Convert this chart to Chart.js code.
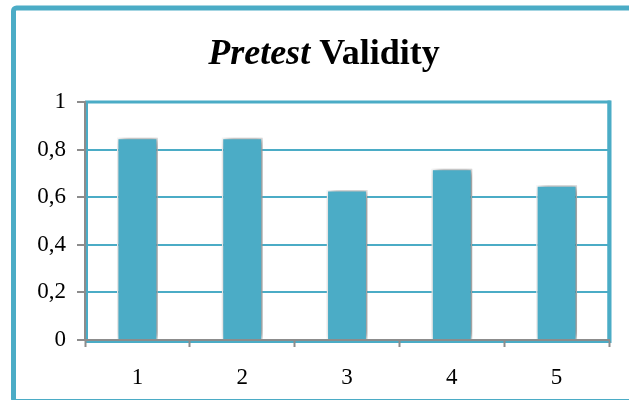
<!DOCTYPE html>
<html>
<head>
<meta charset="utf-8">
<script src="https://cdn.jsdelivr.net/npm/chart.js@4/dist/chart.umd.min.js"></script>
<style>
  html, body { margin: 0; padding: 0; background: #ffffff; }
  #wrap { width: 629px; height: 400px; position: relative; }
</style>
</head>
<body>
<div id="wrap"><canvas id="c" width="629" height="400"></canvas></div>
<script>
// Chart content
const categories = ['1', '2', '3', '4', '5'];
const validity = [0.85, 0.85, 0.63, 0.72, 0.65];
const yTickValues = [0, 0.2, 0.4, 0.6, 0.8, 1];
const yTickLabels = ['0', '0,2', '0,4', '0,6', '0,8', '1'];
const titleItalic = 'Pretest';
const titleRegular = 'Validity';

const TEAL = '#4BACC6';
const AXIS_GREY = '#8c8c8c';
const SERIF = '"Liberation Serif", "Times New Roman", serif';

// Outer frame, plot frame and the two-style title
const framePlugin = {
  id: 'frameAndTitle',
  beforeDraw(chart) {
    const ctx = chart.ctx;
    const a = chart.chartArea;
    ctx.save();
    // outer frame (runs past the right and bottom edges)
    ctx.strokeStyle = TEAL;
    ctx.lineWidth = 5;
    ctx.beginPath();
    ctx.roundRect(13.5, 8, 680, 393.5, 3);
    ctx.stroke();
    // plot area frame
    ctx.lineWidth = 3;
    ctx.strokeRect(a.left + 1.5, a.top, a.right - a.left - 1.5, a.bottom - a.top + 1.5);
    ctx.lineWidth = 4;
    ctx.beginPath();
    ctx.moveTo(a.right + 0.5, a.top - 1.5);
    ctx.lineTo(a.right + 0.5, a.bottom + 3);
    ctx.stroke();
    ctx.restore();
  },
  beforeDatasetsDraw(chart) {
    const ctx = chart.ctx;
    ctx.save();
    ctx.shadowColor = 'rgba(0,0,0,0.5)';
    ctx.shadowBlur = 8;
    ctx.shadowOffsetX = 3;
    ctx.shadowOffsetY = 0;
  },
  afterDatasetsDraw(chart) {
    chart.ctx.restore();
  },
  afterDraw(chart) {
    const ctx = chart.ctx;
    ctx.save();
    ctx.fillStyle = '#000000';
    ctx.textBaseline = 'alphabetic';
    const fItalic = 'italic bold 36px ' + SERIF;
    const fBold = 'bold 36px ' + SERIF;
    ctx.font = fItalic;
    const w1 = ctx.measureText(titleItalic + ' ').width;
    ctx.font = fBold;
    const w2 = ctx.measureText(titleRegular).width;
    const cx = 324;
    let x = cx - (w1 + w2) / 2;
    const baseline = 64;
    ctx.font = fItalic;
    ctx.fillText(titleItalic + ' ', x, baseline);
    ctx.font = fBold;
    ctx.fillText(titleRegular, x + w1, baseline);
    ctx.restore();
  }
};

new Chart(document.getElementById('c'), {
  type: 'bar',
  data: {
    labels: categories,
    datasets: [{
      data: validity,
      backgroundColor: TEAL,
      borderColor: '#ffffff',
      borderWidth: 1.5,
      categoryPercentage: 1,
      barPercentage: 0.39
    }]
  },
  options: {
    responsive: false,
    animation: false,
    devicePixelRatio: 1,
    layout: { padding: { left: 16, right: 20, top: 102, bottom: 10 } },
    plugins: {
      legend: { display: false },
      title: { display: false },
      tooltip: { enabled: false }
    },
    scales: {
      x: {
        afterFit(scale) { scale.height = 50; },
        grid: {
          offset: true,
          drawOnChartArea: false,
          drawTicks: true,
          tickLength: 7,
          tickColor: AXIS_GREY,
          tickWidth: 2
        },
        border: { display: true, color: AXIS_GREY, width: 2 },
        ticks: {
          color: '#000000',
          font: { family: SERIF, size: 23 },
          padding: 17,
          maxRotation: 0
        }
      },
      y: {
        min: 0,
        max: 1,
        afterFit(scale) { scale.width = 69; },
        afterBuildTicks(scale) {
          scale.ticks = yTickValues.map(v => ({ value: v }));
        },
        grid: {
          color: (c) => (c.tick && (c.tick.value === 0 || c.tick.value === 1)) ? 'rgba(0,0,0,0)' : TEAL,
          lineWidth: 2,
          drawTicks: true,
          tickLength: 8,
          tickColor: AXIS_GREY,
          tickWidth: 2
        },
        border: { display: true, color: AXIS_GREY, width: 2 },
        ticks: {
          color: '#000000',
          font: { family: SERIF, size: 23 },
          padding: 11,
          callback: (v) => {
            const i = yTickValues.findIndex(t => Math.abs(t - v) < 1e-9);
            return i >= 0 ? yTickLabels[i] : '';
          }
        }
      }
    }
  },
  plugins: [framePlugin]
});
</script>
</body>
</html>
